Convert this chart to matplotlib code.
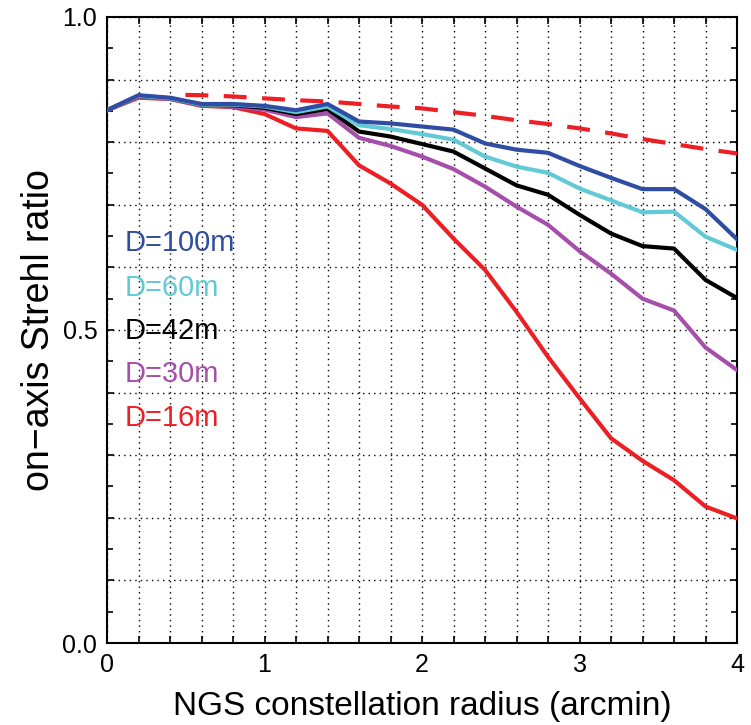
import matplotlib
matplotlib.use("Agg")
import matplotlib.pyplot as plt
from matplotlib.ticker import MultipleLocator, FuncFormatter

plt.rcParams['font.family'] = ['Liberation Sans', 'DejaVu Sans']

radius = [0.0, 0.2, 0.4, 0.6, 0.8, 1.0, 1.2, 1.4, 1.6, 1.8, 2.0,
          2.2, 2.4, 2.6, 2.8, 3.0, 3.2, 3.4, 3.6, 3.8, 4.0]

strehl_100m = [0.851, 0.875, 0.871, 0.861, 0.861, 0.858, 0.851, 0.861, 0.833, 0.830, 0.825,
               0.820, 0.798, 0.788, 0.783, 0.762, 0.743, 0.725, 0.725, 0.693, 0.645]
strehl_60m = [0.851, 0.874, 0.870, 0.860, 0.860, 0.857, 0.848, 0.857, 0.827, 0.821, 0.813,
              0.804, 0.777, 0.761, 0.751, 0.726, 0.707, 0.688, 0.689, 0.649, 0.628]
strehl_42m = [0.851, 0.874, 0.870, 0.860, 0.859, 0.855, 0.845, 0.853, 0.817, 0.809, 0.797,
              0.785, 0.758, 0.731, 0.716, 0.684, 0.654, 0.634, 0.630, 0.580, 0.551]
strehl_30m = [0.851, 0.873, 0.869, 0.859, 0.857, 0.852, 0.840, 0.846, 0.807, 0.794, 0.777,
              0.757, 0.729, 0.697, 0.668, 0.626, 0.590, 0.550, 0.531, 0.472, 0.436]
strehl_16m = [0.851, 0.871, 0.869, 0.858, 0.856, 0.845, 0.822, 0.818, 0.763, 0.734, 0.700,
              0.646, 0.596, 0.529, 0.457, 0.391, 0.327, 0.291, 0.260, 0.218, 0.199]

radius_ref = [0.4, 0.6, 0.8, 1.0, 1.2, 1.4, 1.6, 1.8, 2.0, 2.2, 2.4,
              2.6, 2.8, 3.0, 3.2, 3.4, 3.6, 3.8, 4.0]
strehl_ref = [0.876, 0.875, 0.873, 0.870, 0.867, 0.865, 0.861, 0.857, 0.854, 0.848, 0.842,
              0.835, 0.829, 0.822, 0.814, 0.805, 0.797, 0.789, 0.782]

labels = ['D=100m', 'D=60m', 'D=42m', 'D=30m', 'D=16m']
colors = ['#2E4DA3', '#62C9D6', '#000000', '#A64FAA', '#EC1F24']
series = [strehl_100m, strehl_60m, strehl_42m, strehl_30m, strehl_16m]

fig = plt.figure(figsize=(7.51, 7.25), dpi=100)
ax = fig.add_axes([0.1425, 0.1131, 0.8389, 0.8635])

lw = 3.0
# draw red first so blue lies on top
for vals, col in zip(series[::-1], colors[::-1]):
    ax.plot(radius, vals, color=col, lw=lw, solid_joinstyle='miter', zorder=3)
ax.plot(radius_ref, strehl_ref, color=colors[4], lw=lw,
        linestyle=(5.5, (5.5, 3.7)), zorder=3)

label_y = [0.639, 0.567, 0.498, 0.429, 0.359]
for lab, col, yy in zip(labels, colors, label_y):
    ax.text(0.11, yy, lab, color=col, fontsize=21, ha='left', va='center', zorder=4)

ax.set_xlim(0, 4)
ax.set_ylim(0, 1)
ax.xaxis.set_major_locator(MultipleLocator(0.2))
ax.yaxis.set_major_locator(MultipleLocator(0.1))
ax.yaxis.set_minor_locator(MultipleLocator(0.05))

def xfmt(v, pos):
    r = round(v)
    return f"{r:d}" if abs(v - r) < 1e-6 else ""

def yfmt(v, pos):
    r = round(v * 2) / 2
    return f"{r:.1f}" if abs(v - r) < 1e-6 else ""

ax.xaxis.set_major_formatter(FuncFormatter(xfmt))
ax.yaxis.set_major_formatter(FuncFormatter(yfmt))
ax.tick_params(which='both', direction='in', top=True, right=True,
               labelsize=18, width=1.2, color='black')
ax.tick_params(which='major', length=5, pad=7)
ax.tick_params(which='minor', length=4)
ax.grid(True, which='major', color='black', linestyle=(0, (1, 3)), lw=1.0)
for s in ax.spines.values():
    s.set_linewidth(1.5)

ax.set_xlabel('NGS constellation radius (arcmin)', fontsize=24, labelpad=10)
ax.set_ylabel('on\u2212axis Strehl ratio', fontsize=27, labelpad=4)

fig.savefig('out.png', dpi=100)
